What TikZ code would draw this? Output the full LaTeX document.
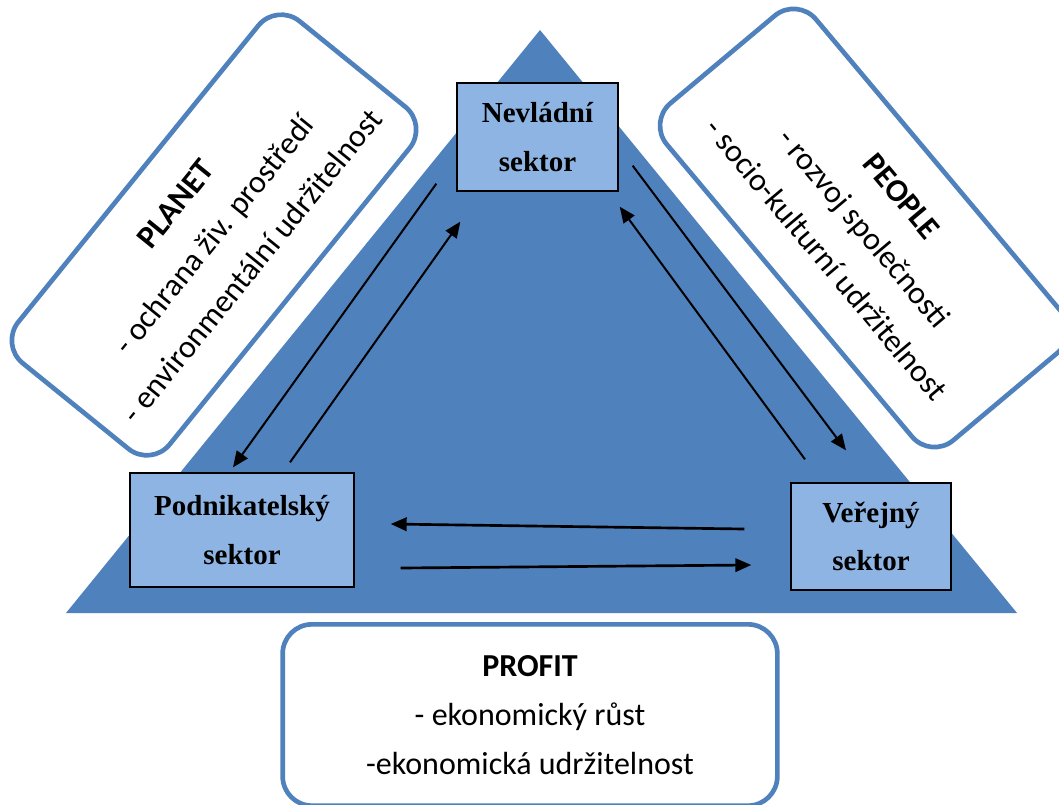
\documentclass[tikz,border=0pt]{standalone}
\usepackage{fontspec}
\setmainfont{Liberation Serif}
\newfontfamily\calibrifont{Carlito}
\usepackage{xcolor}
\usetikzlibrary{arrows.meta}

\definecolor{triblue}{HTML}{4F81BD}
\definecolor{sektorblue}{HTML}{8EB4E3}

\begin{document}
\begin{tikzpicture}[x=0.75pt, y=-0.75pt,
        sektornode/.style={rectangle, draw=black, line width=1pt, fill=sektorblue, inner sep=0pt, align=center, font=\fontsize{21.75}{36.5}\selectfont\bfseries},
        pillarnode/.style={rectangle, rounded corners=22pt, draw=triblue, line width=3.5pt, fill=white, inner sep=0pt, align=center, font=\calibrifont\fontsize{24}{37}\selectfont},
        flowarrow/.style={-{Triangle[length=12pt, width=10pt]}, line width=1.5pt, black},
    ]
    \useasboundingbox (0,0) rectangle (1059,804);
    %Triangle
    \fill[triblue] (540,30) -- (1017,613) -- (66,613) -- cycle;
    %Nodes
    \node[pillarnode, rotate=51, minimum width=330pt, minimum height=146pt] (planetnode) at (214,235)
        {\textbf{PLANET}\\- ochrana živ. prostředí\\- environmentální udržitelnost};
    \node[pillarnode, rotate=-50, minimum width=330pt, minimum height=146pt] (peoplenode) at (864,228)
        {\textbf{PEOPLE}\\- rozvoj společnosti\\- socio-kulturní udržitelnost};
    \node[pillarnode, minimum width=371pt, minimum height=136pt] (profitnode) at (530,715)
        {\textbf{PROFIT}\\- ekonomický růst\\-ekonomická udržitelnost};
    \node[sektornode, minimum width=120.75pt, minimum height=81pt] (nevnode) at (537.5,137) {Nevládní\\sektor};
    \node[sektornode, minimum width=168pt, minimum height=85.5pt] (podnode) at (242,530) {Podnikatelský\\sektor};
    \node[sektornode, minimum width=120pt, minimum height=80.25pt] (vernode) at (871,536.5) {Veřejný\\sektor};
    %Lines
    \draw[flowarrow] ([shift={(-20,-8)}]nevnode.south west) -- ([shift={(-9,-5)}]podnode.north);
    \draw[flowarrow] ([shift={(48,-10)}]podnode.north) -- ([shift={(4,30)}]nevnode.south west);
    \draw[flowarrow] ([shift={(14,-26)}]nevnode.south east) -- ([shift={(-25,-32)}]vernode.north);
    \draw[flowarrow] ([shift={(-66,-23)}]vernode.north) -- ([shift={(1,15)}]nevnode.south east);
    \draw[flowarrow, line width=2pt] ([shift={(-46,-7.5)}]vernode.west) -- ([shift={(36,-6)}]podnode.east);
    \draw[flowarrow, line width=2pt] ([shift={(46,38)}]podnode.east) -- ([shift={(-39,28.5)}]vernode.west);
\end{tikzpicture}
\end{document}
